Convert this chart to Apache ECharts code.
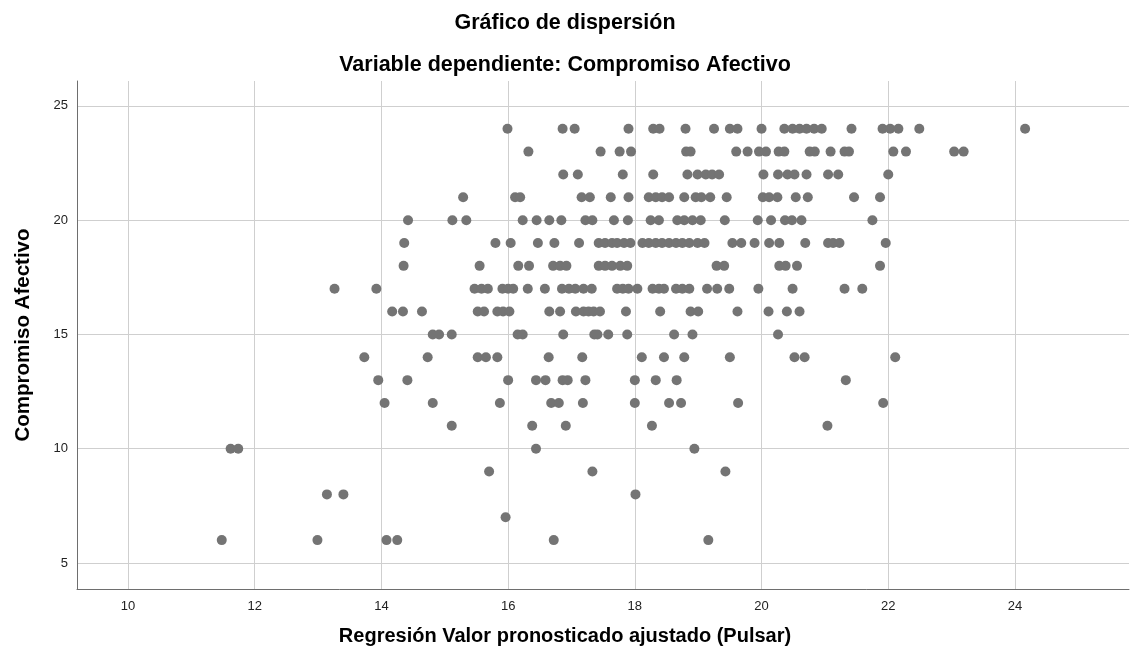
<!DOCTYPE html>
<html>
<head>
<meta charset="utf-8">
<script src="https://cdn.jsdelivr.net/npm/echarts@6/dist/echarts.min.js"></script>
<style>
html,body{margin:0;padding:0;background:#fff;}
#chart{width:1130px;height:656px;}
</style>
</head>
<body>
<div id="chart"></div>
<script>
// Tick labels
const xTicks = [10, 12, 14, 16, 18, 20, 22, 24];
const yTicks = [5, 10, 15, 20, 25];

// Points grouped by Compromiso Afectivo value (y); each array lists predicted values (x)
const xAtY24 = [15.99, 16.86, 17.05, 17.90, 18.29, 18.39, 18.80, 19.25, 19.50, 19.62, 20.00, 20.36, 20.49, 20.60, 20.71, 20.83, 20.95, 21.42, 21.91, 22.03, 22.16, 22.49, 24.16];
const xAtY23 = [16.32, 17.46, 17.76, 17.94, 18.81, 18.88, 19.60, 19.78, 19.96, 20.07, 20.27, 20.36, 20.76, 20.84, 21.09, 21.31, 21.38, 22.08, 22.28, 23.04, 23.19];
const xAtY22 = [16.87, 17.10, 17.81, 18.29, 18.83, 18.99, 19.12, 19.22, 19.33, 20.03, 20.26, 20.41, 20.52, 20.71, 21.05, 21.21, 22.00];
const xAtY21 = [15.29, 16.11, 16.19, 17.16, 17.29, 17.62, 17.90, 18.22, 18.33, 18.43, 18.54, 18.78, 18.96, 19.05, 19.19, 19.45, 20.02, 20.12, 20.25, 20.54, 20.73, 21.46, 21.87];
const xAtY20 = [14.42, 15.12, 15.34, 16.23, 16.45, 16.65, 16.84, 17.22, 17.33, 17.67, 17.89, 18.25, 18.38, 18.67, 18.78, 18.91, 19.04, 19.42, 19.94, 20.15, 20.37, 20.48, 20.63, 21.75];
const xAtY19 = [14.36, 15.80, 16.04, 16.47, 16.73, 17.12, 17.43, 17.53, 17.64, 17.72, 17.83, 17.93, 18.12, 18.22, 18.33, 18.43, 18.54, 18.65, 18.75, 18.86, 18.99, 19.10, 19.54, 19.68, 19.89, 20.12, 20.28, 20.69, 21.05, 21.13, 21.23, 21.96];
const xAtY18 = [14.35, 15.55, 16.16, 16.33, 16.71, 16.82, 16.92, 17.43, 17.53, 17.64, 17.77, 17.88, 19.29, 19.41, 20.28, 20.38, 20.56, 21.87];
const xAtY17 = [13.26, 13.92, 15.47, 15.58, 15.68, 15.91, 16.00, 16.08, 16.31, 16.58, 16.85, 16.96, 17.06, 17.19, 17.32, 17.72, 17.81, 17.90, 18.04, 18.28, 18.38, 18.46, 18.65, 18.75, 18.86, 19.14, 19.30, 19.49, 19.95, 20.49, 21.31, 21.59];
const xAtY16 = [14.17, 14.34, 14.64, 15.52, 15.62, 15.83, 15.92, 16.02, 16.65, 16.82, 17.07, 17.19, 17.27, 17.35, 17.45, 17.86, 18.40, 18.88, 19.00, 19.62, 20.11, 20.40, 20.60];
const xAtY15 = [14.81, 14.91, 15.11, 16.15, 16.23, 16.87, 17.36, 17.41, 17.58, 17.88, 18.62, 18.91, 20.26];
const xAtY14 = [13.73, 14.73, 15.52, 15.65, 15.83, 16.64, 17.17, 18.11, 18.46, 18.78, 19.50, 20.52, 20.68, 22.11];
const xAtY13 = [13.95, 14.41, 16.00, 16.44, 16.59, 16.86, 16.94, 17.22, 18.00, 18.33, 18.66, 21.33];
const xAtY12 = [14.05, 14.81, 15.87, 16.68, 16.80, 17.18, 18.00, 18.54, 18.73, 19.63, 21.92];
const xAtY11 = [15.11, 16.38, 16.91, 18.27, 21.04];
const xAtY10 = [11.62, 11.74, 16.44, 18.94];
const xAtY9 = [15.70, 17.33, 19.43];
const xAtY8 = [13.14, 13.40, 18.01];
const xAtY7 = [15.96];
const xAtY6 = [11.48, 12.99, 14.08, 14.25, 16.72, 19.16];

const yLevels = [24, 23, 22, 21, 20, 19, 18, 17, 16, 15, 14, 13, 12, 11, 10, 9, 8, 7, 6];
const xRows = [xAtY24, xAtY23, xAtY22, xAtY21, xAtY20, xAtY19, xAtY18, xAtY17, xAtY16, xAtY15, xAtY14, xAtY13, xAtY12, xAtY11, xAtY10, xAtY9, xAtY8, xAtY7, xAtY6];

const points = [];
yLevels.forEach((y, i) => { xRows[i].forEach(x => points.push([x, y])); });

const FONT = '"Liberation Sans", Arial, sans-serif';
const chart = echarts.init(document.getElementById('chart'), null, {renderer: 'canvas'});
chart.setOption({
  animation: false,
  backgroundColor: '#ffffff',
  title: [
    {text: 'Gráfico de dispersión', left: 'center', top: 7,
     textStyle: {fontFamily: FONT, fontSize: 21.5, fontWeight: 'bold', color: '#000'}},
    {text: 'Variable dependiente: Compromiso Afectivo', left: 'center', top: 49,
     textStyle: {fontFamily: FONT, fontSize: 21.5, fontWeight: 'bold', color: '#000'}},
    {text: 'Regresión Valor pronosticado ajustado (Pulsar)', left: 'center', top: 621,
     textStyle: {fontFamily: FONT, fontSize: 20, fontWeight: 'bold', color: '#000'}}
  ],
  grid: {left: 77, right: 1, top: 81, bottom: 67, containLabel: false, outerBoundsMode: 'none'},
  xAxis: {
    type: 'value', min: 9.195, max: 25.8,
    axisLine: {show: true, onZero: false, lineStyle: {color: '#6e6e6e', width: 1}},
    axisTick: {show: false, customValues: xTicks},
    axisLabel: {customValues: xTicks, margin: 11, color: '#222', fontFamily: FONT, fontSize: 13},
    splitLine: {show: true, lineStyle: {color: '#cfcfcf', width: 1}}
  },
  yAxis: {
    type: 'value', min: 3.86, max: 26.09,
    name: 'Compromiso Afectivo', nameLocation: 'middle', nameGap: 43,
    nameTextStyle: {fontFamily: FONT, fontSize: 20.5, fontWeight: 'bold', color: '#000'},
    axisLine: {show: true, onZero: false, lineStyle: {color: '#6e6e6e', width: 1}},
    axisTick: {show: false, customValues: yTicks},
    axisLabel: {customValues: yTicks, margin: 9, color: '#222', fontFamily: FONT, fontSize: 13},
    splitLine: {show: true, lineStyle: {color: '#cfcfcf', width: 1}}
  },
  series: [{
    type: 'scatter',
    data: points,
    symbol: 'circle',
    symbolSize: 10,
    itemStyle: {color: '#747474', opacity: 1}
  }]
});
</script>
</body>
</html>
